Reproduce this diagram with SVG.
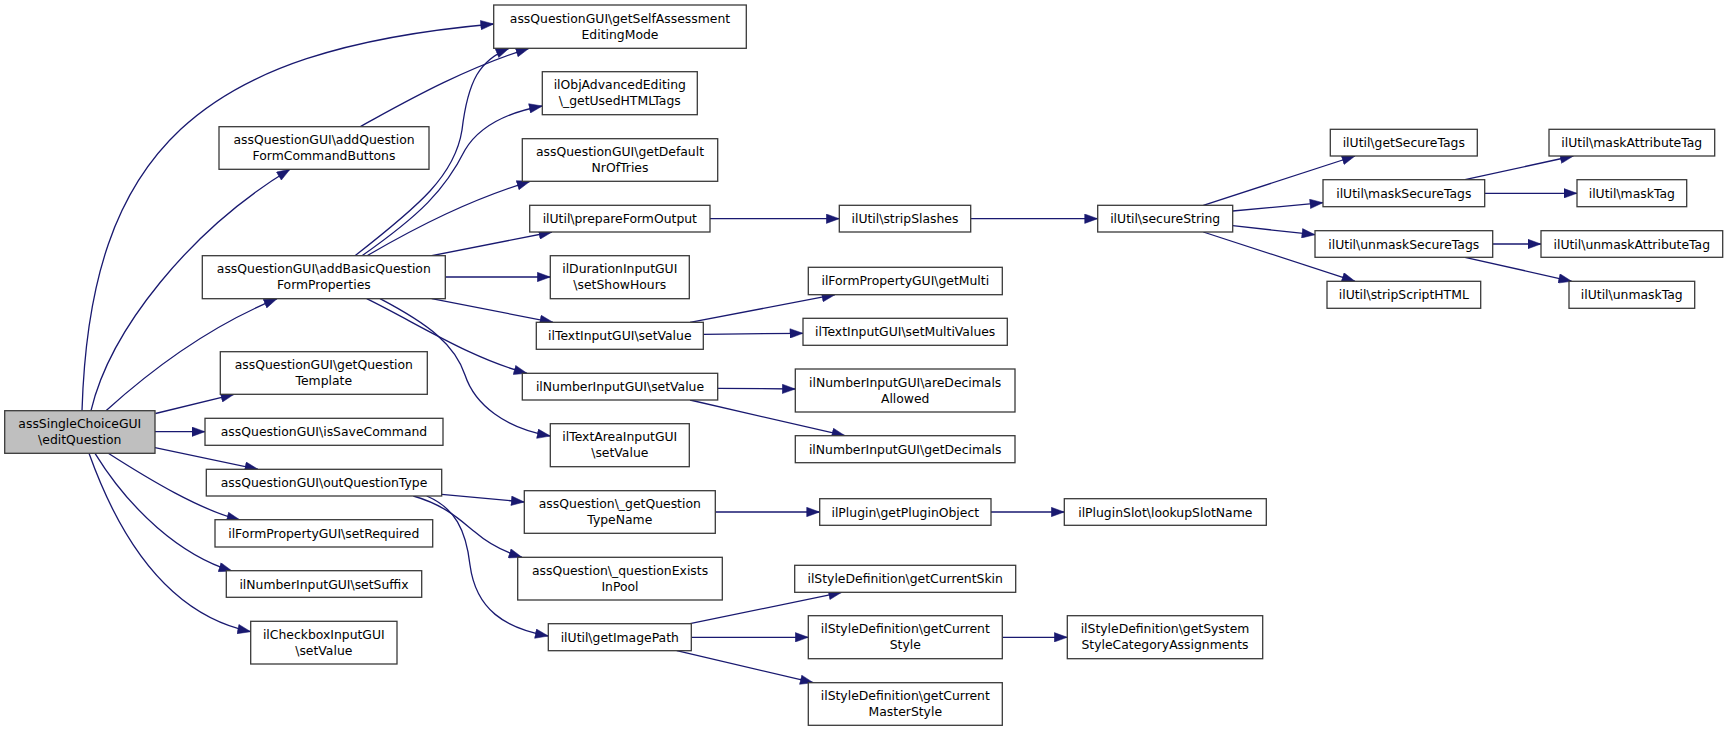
<svg xmlns="http://www.w3.org/2000/svg" width="1728" height="731" viewBox="0 0 1728 731">
<style>
.n rect{fill:#ffffff;stroke:#3a3a3a;stroke-width:1.3}
.n.root rect{fill:#bfbfbf}
.n text{font-family:"DejaVu Sans",sans-serif;font-size:12.4px;fill:#000;text-anchor:middle}
.e path{fill:none;stroke:#191970;stroke-width:1.3;marker-end:url(#ah)}
</style>
<defs>
<marker id="ah" markerUnits="userSpaceOnUse" markerWidth="14" markerHeight="10" viewBox="0 0 13 10" refX="13" refY="5" orient="auto">
<path d="M0,0.3 L13,5 L0,9.7 z" fill="#191970" stroke="#191970" stroke-width="0.5"/>
</marker>
</defs>
<rect width="1728" height="731" fill="#ffffff"/>
<g id="connectors" class="e">
<path d="M82,410.7 C90,150 200,50 493.7,24"/>
<path d="M91,410.7 C110,330 190,230 290,169.3"/>
<path d="M106,410.7 C140,380 200,330 277,298.7"/>
<path d="M155.5,413.5 L234,394.3"/>
<path d="M155,431.7 L205,431.7"/>
<path d="M155,447.7 L258,469.3"/>
<path d="M108.3,453.3 C150,480 200,510 240,520"/>
<path d="M95,453.3 C130,510 180,555 232,571"/>
<path d="M89,453.3 C120,540 170,615 250.7,631.7"/>
<path d="M360,126.7 C400,105 460,70 529,48.3"/>
<path d="M355,255.7 C420,205 455,175 462,130 C468,80 480,60 509,48.3"/>
<path d="M362,255.7 C420,215 445,190 465,150 C480,125 510,112 542.3,106"/>
<path d="M367,255.7 C420,225 470,200 530,181.3"/>
<path d="M431.7,255.7 L552,232"/>
<path d="M445.3,277 L550.3,277"/>
<path d="M431.7,298.7 L553,322.3"/>
<path d="M366.7,298.7 C420,325 470,358 527,373.3"/>
<path d="M380,298.7 C430,325 455,345 465,375 C475,405 505,428 550.3,436"/>
<path d="M710,218.7 L839.3,218.7"/>
<path d="M970.7,218.7 L1097.7,218.7"/>
<path d="M1203.3,205.3 L1355,156"/>
<path d="M1232.7,211 L1323,202.7"/>
<path d="M1232.7,225.7 L1315,234.7"/>
<path d="M1203.3,232 L1355,281.3"/>
<path d="M1465,179.7 L1573.3,156"/>
<path d="M1484.7,193.3 L1577,193.3"/>
<path d="M1492.7,244 L1541,244"/>
<path d="M1465,257.3 L1571.7,281.3"/>
<path d="M690,322.3 L835,294.7"/>
<path d="M703.3,334.3 L803,333.3"/>
<path d="M717.7,388.3 L795.3,389"/>
<path d="M690,400 L845,435.7"/>
<path d="M441.7,494.3 L524.3,502"/>
<path d="M413.3,496 C445,505 460,520 475,532 C490,545 505,552 522,557.3"/>
<path d="M426.7,496 C455,508 466,530 470,565 C476,610 505,628 548.3,636"/>
<path d="M715.3,512 L819.7,512"/>
<path d="M991,512 L1064.3,512"/>
<path d="M690,623.7 L841.7,592.3"/>
<path d="M691.3,637.3 L808.3,637.3"/>
<path d="M676.7,650.7 L813.3,682.7"/>
<path d="M1002.3,637.3 L1067.3,637.3"/>
</g>
<g id="n_edit" class="n root"><rect x="4.7" y="410.7" width="150.3" height="42.6"/><text x="79.8" y="428.3">assSingleChoiceGUI</text><text x="79.8" y="444.3">\editQuestion</text></g>
<g id="n_selfAssess" class="n"><rect x="493.7" y="5" width="252.6" height="43.3"/><text x="620" y="22.6">assQuestionGUI\getSelfAssessment</text><text x="620" y="38.6">EditingMode</text></g>
<g id="n_cmdButtons" class="n"><rect x="219" y="126.7" width="210" height="42.6"/><text x="324" y="144.3">assQuestionGUI\addQuestion</text><text x="324" y="160.3">FormCommandButtons</text></g>
<g id="n_addBasic" class="n"><rect x="202.3" y="255.7" width="243" height="43"/><text x="323.8" y="273.3">assQuestionGUI\addBasicQuestion</text><text x="323.8" y="289.3">FormProperties</text></g>
<g id="n_qTemplate" class="n"><rect x="220.3" y="351.7" width="207" height="42.6"/><text x="323.8" y="369.3">assQuestionGUI\getQuestion</text><text x="323.8" y="385.3">Template</text></g>
<g id="n_isSave" class="n"><rect x="205" y="418.3" width="238" height="27"/><text x="324" y="436.3">assQuestionGUI\isSaveCommand</text></g>
<g id="n_outQType" class="n"><rect x="206.3" y="469.3" width="235.4" height="26.7"/><text x="324" y="487.3">assQuestionGUI\outQuestionType</text></g>
<g id="n_setRequired" class="n"><rect x="215" y="519.7" width="217.7" height="27.3"/><text x="323.8" y="537.7">ilFormPropertyGUI\setRequired</text></g>
<g id="n_setSuffix" class="n"><rect x="226.3" y="570.7" width="195.4" height="26.6"/><text x="324" y="588.7">ilNumberInputGUI\setSuffix</text></g>
<g id="n_checkbox" class="n"><rect x="250.7" y="621.3" width="146.3" height="42.7"/><text x="323.8" y="638.9">ilCheckboxInputGUI</text><text x="323.8" y="654.9">\setValue</text></g>
<g id="n_objAdv" class="n"><rect x="542.3" y="71.7" width="155" height="43"/><text x="619.8" y="89.3">ilObjAdvancedEditing</text><text x="619.8" y="105.3">\_getUsedHTMLTags</text></g>
<g id="n_defNrTries" class="n"><rect x="522.3" y="138.7" width="195.4" height="42.6"/><text x="620" y="156.3">assQuestionGUI\getDefault</text><text x="620" y="172.3">NrOfTries</text></g>
<g id="n_prepForm" class="n"><rect x="529.7" y="205.3" width="180.3" height="26.7"/><text x="619.8" y="223.3">ilUtil\prepareFormOutput</text></g>
<g id="n_duration" class="n"><rect x="550.3" y="255.7" width="139" height="43"/><text x="619.8" y="273.3">ilDurationInputGUI</text><text x="619.8" y="289.3">\setShowHours</text></g>
<g id="n_textSetValue" class="n"><rect x="536.3" y="322.3" width="167" height="27"/><text x="619.8" y="340.3">ilTextInputGUI\setValue</text></g>
<g id="n_numSetValue" class="n"><rect x="522.3" y="373.3" width="195.4" height="26.7"/><text x="620" y="391.3">ilNumberInputGUI\setValue</text></g>
<g id="n_textArea" class="n"><rect x="550.3" y="423.7" width="139" height="43"/><text x="619.8" y="441.3">ilTextAreaInputGUI</text><text x="619.8" y="457.3">\setValue</text></g>
<g id="n_qTypeName" class="n"><rect x="524.3" y="490.7" width="191" height="42.6"/><text x="619.8" y="508.3">assQuestion\_getQuestion</text><text x="619.8" y="524.3">TypeName</text></g>
<g id="n_qExists" class="n"><rect x="517.7" y="557.3" width="204.6" height="42.7"/><text x="620" y="574.9">assQuestion\_questionExists</text><text x="620" y="590.9">InPool</text></g>
<g id="n_imagePath" class="n"><rect x="548.3" y="623.7" width="143" height="27"/><text x="619.8" y="641.7">ilUtil\getImagePath</text></g>
<g id="n_stripSlashes" class="n"><rect x="839.3" y="205.3" width="131.4" height="26.7"/><text x="905" y="223.3">ilUtil\stripSlashes</text></g>
<g id="n_getMulti" class="n"><rect x="808.3" y="267.3" width="194" height="27.4"/><text x="905.3" y="285.3">ilFormPropertyGUI\getMulti</text></g>
<g id="n_setMultiValues" class="n"><rect x="803" y="318.3" width="204.3" height="27"/><text x="905.2" y="336.3">ilTextInputGUI\setMultiValues</text></g>
<g id="n_areDecimals" class="n"><rect x="795.3" y="369" width="219.7" height="43"/><text x="905.2" y="386.6">ilNumberInputGUI\areDecimals</text><text x="905.2" y="402.6">Allowed</text></g>
<g id="n_getDecimals" class="n"><rect x="795.3" y="435.7" width="219.7" height="27"/><text x="905.2" y="453.7">ilNumberInputGUI\getDecimals</text></g>
<g id="n_pluginObj" class="n"><rect x="819.7" y="498.7" width="171.3" height="26.6"/><text x="905.3" y="516.7">ilPlugin\getPluginObject</text></g>
<g id="n_currentSkin" class="n"><rect x="794.7" y="565.3" width="221" height="27"/><text x="905.2" y="583.3">ilStyleDefinition\getCurrentSkin</text></g>
<g id="n_currentStyle" class="n"><rect x="808.3" y="615.7" width="194" height="43"/><text x="905.3" y="633.3">ilStyleDefinition\getCurrent</text><text x="905.3" y="649.3">Style</text></g>
<g id="n_masterStyle" class="n"><rect x="808.3" y="682.7" width="194" height="42.6"/><text x="905.3" y="700.3">ilStyleDefinition\getCurrent</text><text x="905.3" y="716.3">MasterStyle</text></g>
<g id="n_secureString" class="n"><rect x="1097.7" y="205.3" width="135" height="26.7"/><text x="1165.2" y="223.3">ilUtil\secureString</text></g>
<g id="n_lookupSlot" class="n"><rect x="1064.3" y="498.7" width="202" height="26.6"/><text x="1165.3" y="516.7">ilPluginSlot\lookupSlotName</text></g>
<g id="n_systemStyle" class="n"><rect x="1067.3" y="615.7" width="195.4" height="43"/><text x="1165" y="633.3">ilStyleDefinition\getSystem</text><text x="1165" y="649.3">StyleCategoryAssignments</text></g>
<g id="n_getSecureTags" class="n"><rect x="1330.3" y="129.3" width="147" height="26.7"/><text x="1403.8" y="147.3">ilUtil\getSecureTags</text></g>
<g id="n_maskSecureTags" class="n"><rect x="1323" y="179.7" width="161.7" height="27"/><text x="1403.8" y="197.7">ilUtil\maskSecureTags</text></g>
<g id="n_unmaskSecureTags" class="n"><rect x="1315" y="230.7" width="177.7" height="26.6"/><text x="1403.8" y="248.7">ilUtil\unmaskSecureTags</text></g>
<g id="n_stripScriptHTML" class="n"><rect x="1327" y="281.3" width="153.7" height="27"/><text x="1403.8" y="299.3">ilUtil\stripScriptHTML</text></g>
<g id="n_maskAttr" class="n"><rect x="1549" y="129.3" width="165.7" height="26.7"/><text x="1631.8" y="147.3">ilUtil\maskAttributeTag</text></g>
<g id="n_maskTag" class="n"><rect x="1577" y="179.7" width="109.7" height="27"/><text x="1631.8" y="197.7">ilUtil\maskTag</text></g>
<g id="n_unmaskAttr" class="n"><rect x="1541" y="230.7" width="181.7" height="26.6"/><text x="1631.8" y="248.7">ilUtil\unmaskAttributeTag</text></g>
<g id="n_unmaskTag" class="n"><rect x="1569" y="281.3" width="125.7" height="27"/><text x="1631.8" y="299.3">ilUtil\unmaskTag</text></g>
</svg>
